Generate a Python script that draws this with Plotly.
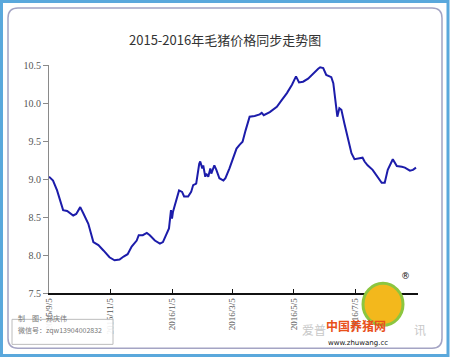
import plotly.graph_objects as go
import pandas as pd

# ---- data ----
start_date = "2015-09-05"
day_offset = [0, 4, 8, 11, 14, 18, 24, 27, 31, 34, 39, 44, 49, 54, 60, 65, 70, 74, 78, 82,
              87, 89, 93, 97, 100, 105, 110, 113, 117, 119, 121, 122, 123, 127, 129, 132, 134,
              138, 141, 143, 146, 149, 150, 152, 153, 155, 156, 158, 160, 161, 164, 166, 169,
              173, 175, 179, 183, 186, 189, 192, 195, 199, 204, 209, 211, 213, 219, 226, 231,
              236, 241, 245, 248, 252, 257, 262, 267, 269, 272, 275, 280, 282, 284, 286, 288,
              290, 293, 297, 300, 303, 308, 311, 313, 316, 321, 326, 330, 333, 336, 341, 345,
              350, 353, 358, 361, 364]
price = [9.03, 8.98, 8.85, 8.72, 8.59, 8.58, 8.52, 8.54, 8.63, 8.55, 8.41, 8.17, 8.13, 8.06,
         7.97, 7.93, 7.94, 7.98, 8.01, 8.11, 8.19, 8.26, 8.26, 8.29, 8.26, 8.19, 8.15, 8.17,
         8.28, 8.35, 8.59, 8.48, 8.57, 8.76, 8.85, 8.83, 8.77, 8.77, 8.83, 8.92, 8.94, 9.20,
         9.23, 9.14, 9.18, 9.03, 9.07, 9.03, 9.14, 9.07, 9.18, 9.12, 9.01, 8.98, 9.01, 9.14,
         9.30, 9.40, 9.45, 9.49, 9.64, 9.82, 9.83, 9.85, 9.87, 9.84, 9.88, 9.95, 10.04, 10.13,
         10.24, 10.35, 10.27, 10.28, 10.32, 10.39, 10.45, 10.47, 10.46, 10.37, 10.34, 10.26,
         10.04, 9.82, 9.93, 9.91, 9.73, 9.51, 9.34, 9.26, 9.27, 9.28, 9.23, 9.18, 9.12, 9.03,
         8.95, 8.95, 9.12, 9.26, 9.17, 9.16, 9.15, 9.11, 9.12, 9.15]
tick_dates = ["2015-09-05", "2015-11-05", "2016-01-05", "2016-03-05", "2016-05-05", "2016-07-05"]
tick_labels = ["2015/9/5", "2015/11/5", "2016/1/5", "2016/3/5", "2016/5/5", "2016/7/5"]
y_ticks = [7.5, 8.0, 8.5, 9.0, 9.5, 10.0, 10.5]
title_text = "2015-2016年毛猪价格同步走势图"

dates = pd.to_datetime(start_date) + pd.to_timedelta(day_offset, unit="D")

W, H = 450, 358
L, R, T, B = 49, 418, 65, 292.7

def px(x):
    return (x - L) / (R - L)

def py(y):
    return (B - y) / (B - T)

fig = go.Figure()
fig.add_trace(go.Scatter(x=dates, y=price, mode="lines",
                         line=dict(color="#1c1caa", width=2), hoverinfo="skip"))

shapes = [
    # outer blue frame
    dict(type="rect", xref="paper", yref="paper", x0=px(1.5), x1=px(448), y0=py(1.5), y1=py(355),
         line=dict(color="#5aa8dc", width=3), fillcolor="rgba(0,0,0,0)", layer="below"),
    # inner rounded frame
    dict(type="path", xref="paper", yref="paper",
         path=(f"M {px(18)} {py(8)} L {px(432)} {py(8)} Q {px(442)} {py(8)} {px(442)} {py(18)} "
               f"L {px(442)} {py(338)} Q {px(442)} {py(348)} {px(432)} {py(348)} "
               f"L {px(18)} {py(348)} Q {px(8)} {py(348)} {px(8)} {py(338)} "
               f"L {px(8)} {py(18)} Q {px(8)} {py(8)} {px(18)} {py(8)} Z"),
         line=dict(color="#a4a4c4", width=1.5), fillcolor="rgba(0,0,0,0)", layer="below"),
    # watermark box
    dict(type="rect", xref="paper", yref="paper", x0=px(12), x1=px(113), y0=py(319), y1=py(344),
         line=dict(color="#bcbcbc", width=1), fillcolor="rgba(255,255,255,0.9)"),
    # logo circle
    dict(type="circle", xref="paper", yref="paper", x0=px(363), x1=px(403), y0=py(283), y1=py(325),
         line=dict(color="#8cc63f", width=3), fillcolor="#f3b81c"),
]

annotations = [
    dict(text=title_text, xref="paper", yref="paper", x=px(225), y=py(28), showarrow=False,
         font=dict(family="Noto Sans CJK SC", size=13, color="#333333")),
    dict(text="制　图：郑庆伟", xref="paper", yref="paper", x=px(16), y=py(325), xanchor="left",
         showarrow=False, font=dict(family="Noto Sans CJK SC", size=7, color="#777777")),
    dict(text="微信号：zqw13904002832", xref="paper", yref="paper", x=px(16), y=py(337), xanchor="left",
         showarrow=False, font=dict(family="Noto Sans CJK SC", size=7, color="#777777")),
    dict(text="爱普", xref="paper", yref="paper", x=px(328), y=py(340), showarrow=False,
         font=dict(family="Noto Sans CJK SC", size=12, color="#c8c8c8")),
    dict(text="讯", xref="paper", yref="paper", x=px(428), y=py(340), showarrow=False,
         font=dict(family="Noto Sans CJK SC", size=12, color="#c8c8c8")),
    dict(text="<b>中国养猪网</b>", xref="paper", yref="paper", x=px(388), y=py(336), showarrow=False,
         font=dict(family="Noto Sans CJK SC", size=12, color="#e8501a")),
    dict(text="www.zhuwang.cc", xref="paper", yref="paper", x=px(390), y=py(349), showarrow=False,
         font=dict(family="DejaVu Sans", size=7, color="#111111")),
    dict(text="®", xref="paper", yref="paper", x=px(412), y=py(283), showarrow=False,
         font=dict(family="DejaVu Sans", size=9, color="#111111")),
]

fig.update_layout(
    width=W, height=H,
    margin=dict(l=L, r=W - R, t=T, b=H - B),
    paper_bgcolor="white", plot_bgcolor="white",
    showlegend=False,
    shapes=shapes, annotations=annotations,
    xaxis=dict(type="date", range=["2015-09-05", "2016-09-05"],
               tickvals=tick_dates, ticktext=tick_labels, tickangle=-90,
               showgrid=False, zeroline=False,
               showline=True, linecolor="#111111", linewidth=1.5,
               ticks="inside", ticklen=4, tickcolor="#111111",
               tickfont=dict(family="Liberation Serif", size=9, color="#555555")),
    yaxis=dict(range=[7.5, 10.5], tickvals=y_ticks, tickformat=".1f",
               showgrid=False, zeroline=False,
               showline=True, linecolor="#8a8a8a", linewidth=1,
               ticks="outside", ticklen=5, tickcolor="#8a8a8a",
               tickfont=dict(family="Liberation Serif", size=10, color="#555555")),
)

fig.write_html("out.html")
